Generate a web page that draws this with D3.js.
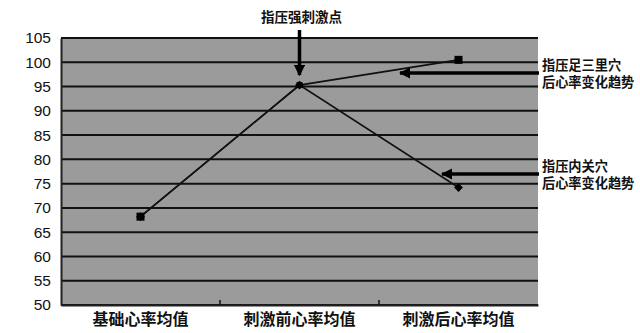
<!DOCTYPE html>
<html>
<head>
<meta charset="utf-8">
<script src="https://cdn.jsdelivr.net/npm/d3@7"></script>
<style>
  html, body { margin: 0; padding: 0; background: #fff; }
  svg { display: block; }
</style>
</head>
<body>
<svg id="chart" width="640" height="333"></svg>
<script>
// Heart-rate means (beats/min) at three stages
const categories = ["基础心率均值", "刺激前心率均值", "刺激后心率均值"];
const zusanliValues = [68.2, 95.3, 100.5];   // acupressure at Zusanli
const neiguanValues = [68.2, 95.3, 74.2];    // acupressure at Neiguan
const yTicks = [50, 55, 60, 65, 70, 75, 80, 85, 90, 95, 100, 105];

const svg = d3.select("#chart");
const W = 640, H = 333;
const margin = { top: 38, right: 102, bottom: 28, left: 61 };
const iw = W - margin.left - margin.right;
const ih = H - margin.top - margin.bottom;

const x = d3.scaleBand().domain(categories).range([margin.left, margin.left + iw]);
const y = d3.scaleLinear().domain([50, 105]).range([margin.top + ih, margin.top]);

const cjk = "'Noto Sans CJK SC', 'Noto Sans', sans-serif";
// Compact line metrics for the stacked note labels
const noteFont = "'Liberation Sans', 'Noto Sans CJK SC', sans-serif";

// Plot area
svg.append("rect")
  .attr("x", margin.left).attr("y", margin.top)
  .attr("width", iw).attr("height", ih)
  .attr("fill", "#9b9b9b");

// Horizontal gridlines
svg.append("g")
  .selectAll("line")
  .data(yTicks)
  .join("line")
  .attr("x1", margin.left).attr("x2", margin.left + iw)
  .attr("y1", d => y(d)).attr("y2", d => y(d))
  .attr("stroke", "#111").attr("stroke-width", 2);

// Y axis
const yAxis = svg.append("g")
  .attr("transform", `translate(${margin.left},0)`)
  .call(d3.axisLeft(y).tickValues(yTicks).tickSize(0).tickPadding(10));
yAxis.select(".domain").attr("stroke", "#222").attr("stroke-width", 2);
yAxis.selectAll("text")
  .attr("font-family", "'Liberation Sans', Arial, sans-serif")
  .attr("font-size", 15.5).attr("fill", "#111");

// X axis
const xAxis = svg.append("g")
  .attr("transform", `translate(0,${margin.top + ih})`)
  .call(d3.axisBottom(x).tickSize(0).tickPadding(9));
xAxis.select(".domain").attr("stroke", "#222").attr("stroke-width", 2);
xAxis.selectAll("text")
  .attr("font-family", cjk).attr("font-weight", "bold")
  .attr("font-size", 16).attr("fill", "#111");

// Small inward ticks between categories
svg.append("g")
  .selectAll("line")
  .data(categories.slice(1))
  .join("line")
  .attr("x1", d => x(d)).attr("x2", d => x(d))
  .attr("y1", margin.top + ih).attr("y2", margin.top + ih - 5)
  .attr("stroke", "#111").attr("stroke-width", 1.5);

// Series lines
const line = d3.line()
  .x((d, i) => x(categories[i]) + x.bandwidth() / 2)
  .y(d => y(d));

[neiguanValues, zusanliValues].forEach(vals => {
  svg.append("path")
    .datum(vals)
    .attr("d", line)
    .attr("fill", "none")
    .attr("stroke", "#111")
    .attr("stroke-width", 1.6);
});

// Markers: diamonds for Neiguan, squares for Zusanli
svg.append("g")
  .selectAll("path")
  .data(neiguanValues)
  .join("path")
  .attr("transform", (d, i) => `translate(${x(categories[i]) + x.bandwidth() / 2},${y(d)})`)
  .attr("d", d3.symbol().type(d3.symbolDiamond2).size(50))
  .attr("fill", "#000");

svg.append("g")
  .selectAll("rect")
  .data(zusanliValues)
  .join("rect")
  .attr("x", (d, i) => x(categories[i]) + x.bandwidth() / 2 - (i === 1 ? 3 : 4))
  .attr("y", (d, i) => y(d) - (i === 1 ? 3 : 4))
  .attr("width", (d, i) => i === 1 ? 6 : 8)
  .attr("height", (d, i) => i === 1 ? 6 : 8)
  .attr("fill", "#000");

// Annotations
const defs = svg.append("defs");
defs.append("marker")
  .attr("id", "head")
  .attr("viewBox", "0 0 10 10")
  .attr("refX", 9).attr("refY", 5)
  .attr("markerWidth", 3.2).attr("markerHeight", 3.2)
  .attr("orient", "auto")
  .append("path").attr("d", "M0,0 L10,5 L0,10 Z").attr("fill", "#000");

const cx1 = x(categories[1]) + x.bandwidth() / 2;

svg.append("text")
  .attr("x", cx1 + 2).attr("y", 22)
  .attr("text-anchor", "middle")
  .attr("font-family", cjk).attr("font-weight", "bold")
  .attr("font-size", 13.5).attr("fill", "#111")
  .text("指压强刺激点");

svg.append("line")
  .attr("x1", cx1).attr("x2", cx1)
  .attr("y1", 30).attr("y2", y(zusanliValues[1]) - 10)
  .attr("stroke", "#000").attr("stroke-width", 3.5)
  .attr("marker-end", "url(#head)");

const notes = [
  { lines: ["指压足三里穴", "后心率变化趋势"], arrowY: 73, tipX: 400, textY: 70 },
  { lines: ["指压内关穴", "后心率变化趋势"], arrowY: 174, tipX: 442, textY: 171 }
];

notes.forEach(n => {
  svg.append("line")
    .attr("x1", margin.left + iw + 1).attr("x2", n.tipX)
    .attr("y1", n.arrowY).attr("y2", n.arrowY)
    .attr("stroke", "#000").attr("stroke-width", 3.5)
    .attr("marker-end", "url(#head)");
  n.lines.forEach((s, i) => {
    svg.append("text")
      .attr("x", 542).attr("y", n.textY + i * 17)
      .attr("font-family", noteFont).attr("font-weight", "bold")
      .attr("font-size", 13.2).attr("fill", "#111")
      .text(s);
  });
});
</script>
</body>
</html>
